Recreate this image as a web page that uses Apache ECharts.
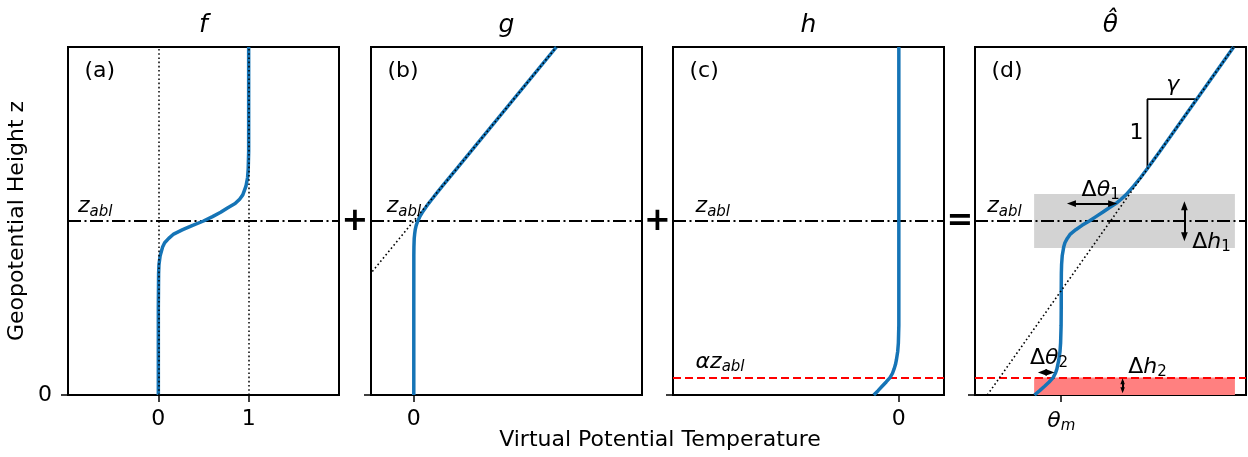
<!DOCTYPE html>
<html>
<head>
<meta charset="utf-8">
<script src="https://cdn.jsdelivr.net/npm/echarts@6/dist/echarts.min.js"></script>
<style>html,body{margin:0;padding:0;background:#fff}#c{width:1248px;height:457px}</style>
</head>
<body>
<div id="c"></div>
<script>
// ---------------- DATA (height in units of z_abl) ----------------
// (a) f : transition function
const zF = [0, 0.5, 0.7, 0.75, 0.8, 0.85, 0.875, 0.9, 0.925, 0.95, 0.975, 1.0, 1.025, 1.05, 1.075, 1.1, 1.125, 1.15, 1.2, 1.25, 1.3, 1.4, 2.0];
const fVals = [0, 0, 0.003, 0.007, 0.02, 0.047, 0.07, 0.115, 0.17, 0.27, 0.38, 0.5, 0.6, 0.69, 0.765, 0.85, 0.9, 0.935, 0.97, 0.988, 0.995, 1, 1];
const fGuideX = [0, 1];

// (b) g : free-troposphere lapse rate term
const zG = [0, 0.5, 0.8, 0.85, 0.9, 0.925, 0.95, 0.975, 1.0, 1.025, 1.05, 1.075, 1.1, 1.125, 1.15, 1.2, 1.3, 2.0];
const gVals = [0, 0, 0.0003, 0.001, 0.003, 0.006, 0.010, 0.017, 0.028, 0.042, 0.060, 0.081, 0.103, 0.127, 0.151, 0.200, 0.300, 1.000];
const gRefZ = [0, 2];
const gRefX = [-1, 1];

// (c) h : surface layer term
const zH = [0, 0.025, 0.05, 0.075, 0.1, 0.125, 0.15, 0.175, 0.2, 0.25, 0.3, 0.35, 0.4, 2.0];
const hVals = [-0.111, -0.092, -0.074, -0.056, -0.039, -0.028, -0.021, -0.015, -0.011, -0.005, -0.002, -0.001, 0, 0];

// (d) theta-hat : sum
const zD = [0, 0.025, 0.05, 0.075, 0.1, 0.125, 0.15, 0.2, 0.25, 0.3, 0.4, 0.5, 0.6, 0.7, 0.75, 0.8, 0.85, 0.875, 0.9, 0.925, 0.95, 0.975, 1.0, 1.025, 1.05, 1.075, 1.1, 1.125, 1.15, 1.2, 1.25, 1.3, 1.4, 2.0];
const thetaVals = [-0.217, -0.175, -0.135, -0.098, -0.066, -0.047, -0.035, -0.02, -0.01, -0.005, -0.001, 0, 0, 0.001, 0.003, 0.008, 0.02, 0.03, 0.049, 0.074, 0.118, 0.169, 0.228, 0.282, 0.336, 0.387, 0.443, 0.486, 0.525, 0.588, 0.645, 0.698, 0.8, 1.4];
const dRefZ = [0, 2];
const dRefX = [-0.6, 1.4];
const triX = [0.7, 0.7, 1.1];
const triZ = [1.3, 1.7, 1.7];

const Z_ABL = 1.0;
const ALPHA_Z = 0.1;
const bandX = [-0.22, 1.41];
const grayBandZ = [0.845, 1.155];
const redBandZ = [0, 0.1];

// double arrows (shaft ends): [x1, z1, x2, z2]
const arrowDth1 = [0.083, 1.1, 0.417, 1.1];
const arrowDh1 = [1.0, 0.909, 1.0, 1.087];
const arrowDth2 = [-0.153, 0.13, -0.091, 0.13];
const arrowDh2 = [0.498, 0.027, 0.498, 0.079];

const xRanges = [[-1, 2], [-0.3, 1.6], [-1, 0.2], [-0.7, 1.5]];
const xTickVals = [[0, 1], [0], [0], [0]];
const titles = ['f', 'g', 'h', 'θ\u0302'];
const panelTags = ['(a)', '(b)', '(c)', '(d)'];

// ---------------- CHART ----------------
const FONT = '"DejaVu Sans", sans-serif';
const BLUE = '#1574b6';
const BLACK = '#000';
const DOT = [1.6, 2.6];
const DASHDOT = [13, 3.5, 2, 3.5];
const DASH = [8, 4];
const GL = [68, 371, 673, 975];
const GW = 271, GT = 47, GH = 348;
const HEAD = 'path://M3,0L6,8L0,8Z';

const rich = {
  m: {fontFamily: FONT, fontSize: 22, lineHeight: 26, color: BLACK},
  i: {fontFamily: FONT, fontSize: 22, lineHeight: 26, fontStyle: 'italic', color: BLACK},
  s: {fontFamily: FONT, fontSize: 15, lineHeight: 15, verticalAlign: 'bottom', color: BLACK},
  si: {fontFamily: FONT, fontSize: 15, lineHeight: 15, verticalAlign: 'bottom', fontStyle: 'italic', color: BLACK}
};

const pairs = (xs, zs) => xs.map((x, k) => [x, zs[k]]);

const grid = GL.map(l => ({left: l, top: GT, width: GW, height: GH, show: true, borderColor: BLACK, borderWidth: 2, backgroundColor: 'transparent', containLabel: false, outerBoundsMode: 'none'}));

const xAxis = GL.map((_, i) => ({
  gridIndex: i, type: 'value', min: xRanges[i][0], max: xRanges[i][1],
  axisLine: {show: false, onZero: false}, splitLine: {show: false},
  axisTick: {show: true, length: 7, lineStyle: {color: BLACK, width: 1.5}, customValues: xTickVals[i]},
  axisLabel: {show: true, customValues: xTickVals[i], margin: 13, color: BLACK, fontFamily: FONT, fontSize: 22,
    formatter: i === 3 ? () => '{i|θ}{si|m}' : (v) => String(v), rich: rich}
}));

const yAxis = GL.map((_, i) => ({
  gridIndex: i, type: 'value', min: 0, max: 2,
  axisLine: {show: false, onZero: false}, splitLine: {show: false},
  axisTick: {show: true, length: 7, lineStyle: {color: BLACK, width: 1.5}, customValues: [0]},
  axisLabel: {show: i === 0, customValues: [0], margin: 16, color: BLACK, fontFamily: FONT, fontSize: 22}
}));

function blueCurve(i, xs, zs, markLine) {
  const s = {type: 'line', xAxisIndex: i, yAxisIndex: i, data: pairs(xs, zs), symbol: 'none', showSymbol: false,
    silent: true, animation: false, lineStyle: {color: BLUE, width: 3.5}, itemStyle: {color: BLUE}, z: 6};
  if (markLine) s.markLine = markLine;
  return s;
}
function refSeries(i, hLines, areas) {
  const s = {type: 'line', xAxisIndex: i, yAxisIndex: i, data: [[xRanges[i][0], 0]], symbol: 'none', showSymbol: false,
    lineStyle: {opacity: 0}, silent: true, animation: false, z: 4,
    markLine: {silent: true, symbol: 'none', z: 4, animation: false, label: {show: false}, data: hLines}};
  if (areas) s.markArea = {silent: true, z: 1, animation: false, label: {show: false}, data: areas};
  return s;
}
function dotted(i, xs, zs) {
  return {type: 'line', xAxisIndex: i, yAxisIndex: i, data: pairs(xs, zs), symbol: 'none', showSymbol: false, clip: true,
    silent: true, animation: false, lineStyle: {color: BLACK, width: 1.6, type: DOT}, z: 7};
}
function texts(i, items) {
  return {type: 'scatter', xAxisIndex: i, yAxisIndex: i, symbol: 'circle', symbolSize: 0.1, silent: true, animation: false, z: 9,
    itemStyle: {color: 'rgba(0,0,0,0)', opacity: 1},
    label: {show: true, position: 'inside', color: BLACK, opacity: 1, fontFamily: FONT, fontSize: 22, rich: rich},
    data: items.map(t => ({value: [t[0], t[1]], label: {formatter: t[2], align: t[3] || 'center', verticalAlign: 'middle'}}))};
}
const zAblLine = {yAxis: Z_ABL, lineStyle: {type: DASHDOT, color: BLACK, width: 2}};
const alphaLine = {yAxis: ALPHA_Z, lineStyle: {type: DASH, color: '#ff0000', width: 2}};
const ZLAB = '{i|z}{si|abl}';
const arrow = (a, size) => [{coord: [a[0], a[1]], symbolSize: size}, {coord: [a[2], a[3]], symbolSize: size}];

const series = [
  // (a)
  refSeries(0, [zAblLine]),
  blueCurve(0, fVals, zF, {silent: true, symbol: 'none', z: 8, animation: false, label: {show: false},
    lineStyle: {type: DOT, color: BLACK, width: 1.5}, data: fGuideX.map(v => ({xAxis: v}))}),
  texts(0, [[-0.89, 1.085, ZLAB, 'left']]),
  // (b)
  refSeries(1, [zAblLine]),
  blueCurve(1, gVals, zG),
  dotted(1, gRefX, gRefZ),
  texts(1, [[-0.19, 1.085, ZLAB, 'left']]),
  // (c)
  refSeries(2, [zAblLine, alphaLine]),
  blueCurve(2, hVals, zH),
  texts(2, [[-0.9, 1.085, ZLAB, 'left'], [-0.9, 0.19, '{i|αz}{si|abl}', 'left']]),
  // (d)
  refSeries(3, [zAblLine, alphaLine], [
    [{coord: [bandX[0], grayBandZ[0]], itemStyle: {color: '#d3d3d3', opacity: 1}}, {coord: [bandX[1], grayBandZ[1]]}],
    [{coord: [bandX[0], redBandZ[0]], itemStyle: {color: '#ff8080', opacity: 1}}, {coord: [bandX[1], redBandZ[1]]}]
  ]),
  blueCurve(3, thetaVals, zD, {silent: true, symbol: [HEAD, HEAD], symbolSize: 9, symbolKeepAspect: true, z: 8, animation: false,
    label: {show: false}, lineStyle: {type: 'solid', color: BLACK, width: 2, opacity: 1}, itemStyle: {color: BLACK, opacity: 1},
    data: [arrow(arrowDth1, 9), arrow(arrowDh1, 9), arrow(arrowDth2, 9), arrow(arrowDh2, 6)]}),
  dotted(3, dRefX, dRefZ),
  {type: 'line', xAxisIndex: 3, yAxisIndex: 3, data: pairs(triX, triZ), symbol: 'none', showSymbol: false, silent: true,
    animation: false, lineStyle: {color: BLACK, width: 1.8}, z: 5},
  texts(3, [
    [-0.6, 1.085, ZLAB, 'left'],
    [0.32, 1.178, '{m|Δ}{i|θ}{s|1}'],
    [1.22, 0.88, '{m|Δ}{i|h}{s|1}'],
    [-0.1, 0.213, '{m|Δ}{i|θ}{s|2}'],
    [0.70, 0.162, '{m|Δ}{i|h}{s|2}'],
    [0.612, 1.503, '{m|1}'],
    [0.905, 1.78, '{i|γ}']
  ])
];

const graphic = [];
GL.forEach((l, i) => {
  graphic.push({type: 'text', x: l + GW / 2, y: 25, silent: true,
    style: {text: titles[i], font: 'italic 25px ' + FONT, fill: BLACK, textAlign: 'center', textVerticalAlign: 'middle'}});
  graphic.push({type: 'text', x: l + 16.5, y: 71, silent: true,
    style: {text: panelTags[i], font: '22px ' + FONT, fill: BLACK, textAlign: 'left', textVerticalAlign: 'middle'}});
});
[[355, '+'], [657.5, '+'], [960, '=']].forEach(p => {
  graphic.push({type: 'text', x: p[0], y: 222, silent: true,
    style: {text: p[1], font: 'bold 32px ' + FONT, fill: BLACK, textAlign: 'center', textVerticalAlign: 'middle'}});
});
graphic.push({type: 'text', x: 17, y: 221, rotation: Math.PI / 2, silent: true,
  style: {text: 'Geopotential Height z', font: '22px ' + FONT, fill: BLACK, textAlign: 'center', textVerticalAlign: 'middle'}});
graphic.push({type: 'text', x: 660, y: 440, silent: true,
  style: {text: 'Virtual Potential Temperature', font: '22px ' + FONT, fill: BLACK, textAlign: 'center', textVerticalAlign: 'middle'}});

const chart = echarts.init(document.getElementById('c'), null, {renderer: 'canvas', width: 1248, height: 457});
chart.setOption({
  animation: false,
  backgroundColor: '#fff',
  grid: grid, xAxis: xAxis, yAxis: yAxis, series: series, graphic: graphic
});
</script>
</body>
</html>
